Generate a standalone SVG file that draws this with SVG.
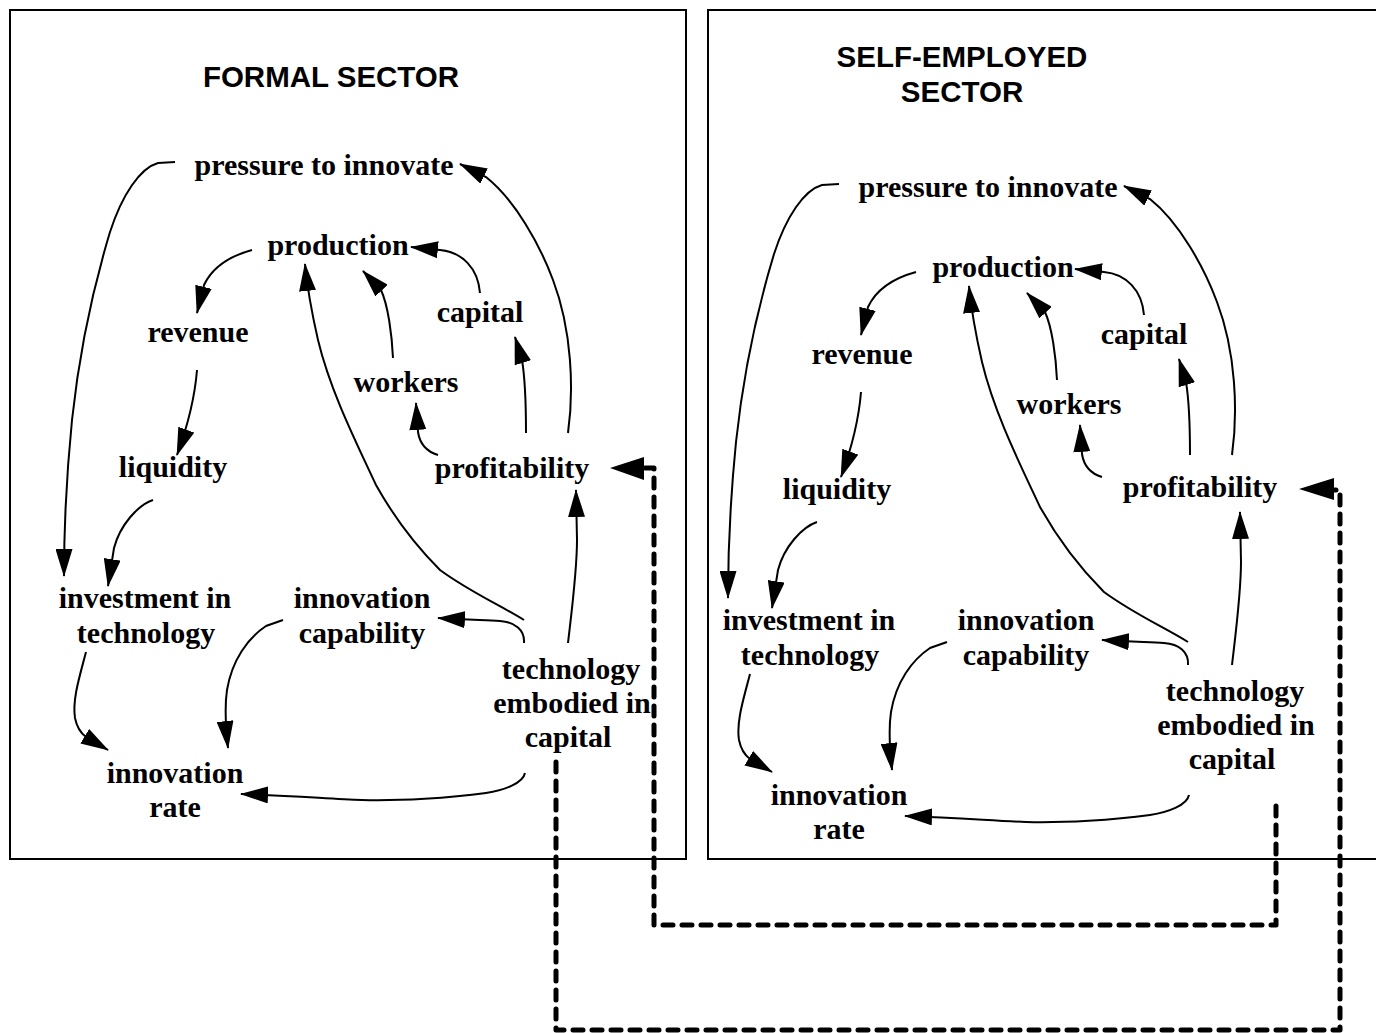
<svg xmlns="http://www.w3.org/2000/svg" width="1376" height="1033" viewBox="0 0 1376 1033">
<defs>
<style>
.box{fill:none;stroke:#000;stroke-width:2}
.title{font-family:"Liberation Sans",Arial,sans-serif;font-weight:bold;font-size:29.5px;text-anchor:middle;fill:#000}
.lbl{font-family:"Liberation Serif","Times New Roman",serif;font-weight:bold;font-size:30px;text-anchor:middle;fill:#000}
.ln{fill:none;stroke:#000;stroke-width:2;marker-end:url(#ah)}
.dash{fill:none;stroke:#000;stroke-width:5;stroke-dasharray:10 9;stroke-linecap:round;stroke-linejoin:round}
</style>
<marker id="ah" markerUnits="userSpaceOnUse" viewBox="0 0 28 17" refX="27" refY="8.5" markerWidth="28" markerHeight="17" orient="auto"><path d="M0,0 L28,8.5 L0,17 z" fill="#000"/></marker>
</defs>
<rect width="1376" height="1033" fill="#fff"/>
<rect class="box" x="10" y="10" width="676" height="849"/>
<rect class="box" x="708" y="10" width="700" height="849"/>
<text class="title" x="331" y="87">FORMAL SECTOR</text>
<text class="title" x="962" y="67">SELF-EMPLOYED</text>
<text class="title" x="962" y="102">SECTOR</text>

<g id="formal-nodes">
<g id="f-pressure"><text class="lbl" x="324" y="175">pressure to innovate</text></g>
<g id="f-production"><text class="lbl" x="338" y="255">production</text></g>
<g id="f-revenue"><text class="lbl" x="198" y="342">revenue</text></g>
<g id="f-capital"><text class="lbl" x="480" y="322">capital</text></g>
<g id="f-workers"><text class="lbl" x="406" y="392">workers</text></g>
<g id="f-liquidity"><text class="lbl" x="173" y="477">liquidity</text></g>
<g id="f-profitability"><text class="lbl" x="512" y="478">profitability</text></g>
<g id="f-investment"><text class="lbl" x="145" y="608">investment in</text><text class="lbl" x="146" y="643">technology</text></g>
<g id="f-capability"><text class="lbl" x="362" y="608">innovation</text><text class="lbl" x="362" y="643">capability</text></g>
<g id="f-techcap"><text class="lbl" x="571" y="679">technology</text><text class="lbl" x="572" y="713">embodied in</text><text class="lbl" x="568" y="747">capital</text></g>
<g id="f-rate"><text class="lbl" x="175" y="783">innovation</text><text class="lbl" x="175" y="817">rate</text></g>
</g>

<g id="self-nodes">
<g id="s-pressure"><text class="lbl" x="988" y="197">pressure to innovate</text></g>
<g id="s-production"><text class="lbl" x="1003" y="277">production</text></g>
<g id="s-revenue"><text class="lbl" x="862" y="364">revenue</text></g>
<g id="s-capital"><text class="lbl" x="1144" y="344">capital</text></g>
<g id="s-workers"><text class="lbl" x="1069" y="414">workers</text></g>
<g id="s-liquidity"><text class="lbl" x="837" y="499">liquidity</text></g>
<g id="s-profitability"><text class="lbl" x="1200" y="497">profitability</text></g>
<g id="s-investment"><text class="lbl" x="809" y="630">investment in</text><text class="lbl" x="810" y="665">technology</text></g>
<g id="s-capability"><text class="lbl" x="1026" y="630">innovation</text><text class="lbl" x="1026" y="665">capability</text></g>
<g id="s-techcap"><text class="lbl" x="1235" y="701">technology</text><text class="lbl" x="1236" y="735">embodied in</text><text class="lbl" x="1232" y="769">capital</text></g>
<g id="s-rate"><text class="lbl" x="839" y="805">innovation</text><text class="lbl" x="839" y="839">rate</text></g>
</g>

<g id="connectors">
<g id="formal-links">
<path class="ln" d="M175,162 L158,163 C140,168 122,195 110,232 C94,285 80,345 72,420 C67,470 64,520 64,576"/>
<path class="ln" d="M568,433 C574,390 572,330 553,280 C540,245 515,200 486,177 L460,164"/>
<path class="ln" d="M252,250 C230,256 212,268 204,285 L197,313"/>
<path class="ln" d="M197,370 C195,395 188,425 177,455"/>
<path class="ln" d="M480,293 C478,268 462,252 440,250 L411,247"/>
<path class="ln" d="M393,358 C392,335 388,305 381,290 L363,271"/>
<path class="ln" d="M526,433 C526,400 525,378 522,360 L515,337"/>
<path class="ln" d="M438,455 C428,452 420,445 418,432 L416,403"/>
<path class="ln" d="M524,620 C500,605 470,592 440,570 C410,540 390,510 376,485 C355,440 330,390 318,340 C310,305 307,285 305,264"/>
<path class="ln" d="M568,643 C573,600 577,570 577,540 L576,490"/>
<path class="ln" d="M153,500 C138,505 120,525 114,548 L108,586"/>
<path class="ln" d="M524,643 C525,630 515,622 500,621 C485,620 470,620 438,618"/>
<path class="ln" d="M283,620 L266,626 C248,638 232,660 227,690 C224,710 226,730 228,748"/>
<path class="ln" d="M86,652 C80,675 72,700 75,718 C77,728 82,734 86,737 L108,750"/>
<path class="ln" d="M525,773 C523,783 505,790 486,793 C450,798 400,801 362,800 C330,799 300,796 241,794"/>
</g>
<g id="self-links" transform="translate(664,22)">
<path class="ln" d="M175,162 L158,163 C140,168 122,195 110,232 C94,285 80,345 72,420 C67,470 64,520 64,576"/>
<path class="ln" d="M568,433 C574,390 572,330 553,280 C540,245 515,200 486,177 L460,164"/>
<path class="ln" d="M252,250 C230,256 212,268 204,285 L197,313"/>
<path class="ln" d="M197,370 C195,395 188,425 177,455"/>
<path class="ln" d="M480,293 C478,268 462,252 440,250 L411,247"/>
<path class="ln" d="M393,358 C392,335 388,305 381,290 L363,271"/>
<path class="ln" d="M526,433 C526,400 525,378 522,360 L515,337"/>
<path class="ln" d="M438,455 C428,452 420,445 418,432 L416,403"/>
<path class="ln" d="M524,620 C500,605 470,592 440,570 C410,540 390,510 376,485 C355,440 330,390 318,340 C310,305 307,285 305,264"/>
<path class="ln" d="M568,643 C573,600 577,570 577,540 L576,490"/>
<path class="ln" d="M153,500 C138,505 120,525 114,548 L108,586"/>
<path class="ln" d="M524,643 C525,630 515,622 500,621 C485,620 470,620 438,618"/>
<path class="ln" d="M283,620 L266,626 C248,638 232,660 227,690 C224,710 226,730 228,748"/>
<path class="ln" d="M86,652 C80,675 72,700 75,718 C77,728 82,734 86,737 L108,750"/>
<path class="ln" d="M525,773 C523,783 505,790 486,793 C450,798 400,801 362,800 C330,799 300,796 241,794"/>
</g>
<g id="cross-links">
<path class="dash" d="M556,762 L556,1030 L1340,1030 L1340,490 L1334,490"/>
<polygon points="1299,489 1334,478 1334,500" fill="#000"/>
<path class="dash" d="M1276,806 L1276,925 L654,925 L654,468 L643,468"/>
<polygon points="610,468 644,457 644,480" fill="#000"/>
</g>
</g>
</svg>
